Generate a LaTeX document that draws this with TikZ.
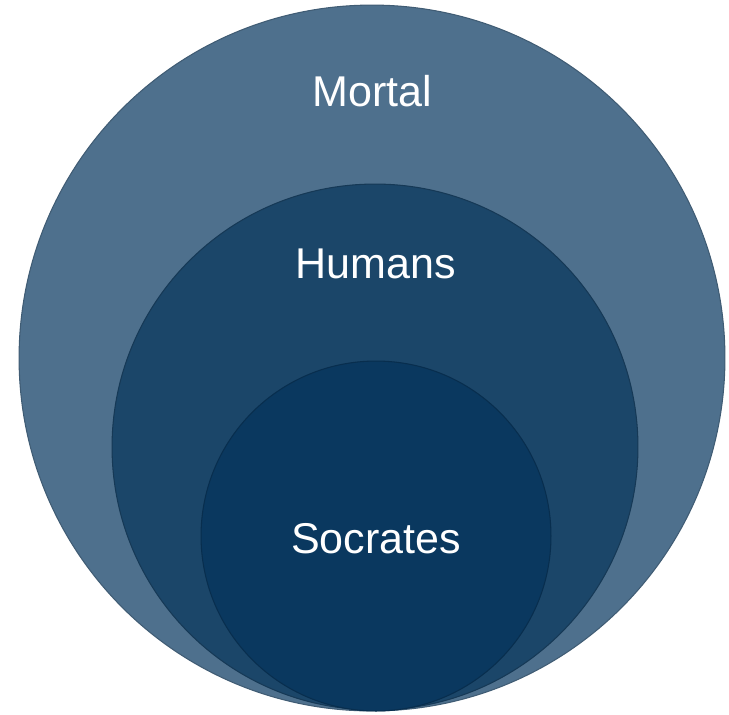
\documentclass[tikz,border=0pt]{standalone}
\usepackage{fontspec}
\setmainfont{Liberation Sans}
\definecolor{mortalblue}{RGB}{78,112,141}
\definecolor{humanblue}{RGB}{27,70,105}
\definecolor{socblue}{RGB}{10,56,95}
\begin{document}
\begin{tikzpicture}[x=0.02cm, y=-0.02cm,
      set/.style={circle,inner sep=0pt,draw=#1!82!black,line width=0.6pt,fill=#1},
      lbl/.style={anchor=base,text=white,font=\fontsize{24.5}{29}\selectfont}
    ]
      \useasboundingbox (0,0) rectangle (729,714);
      % nested sets
      \node[set=mortalblue,minimum size=14.12cm] (mortal) at (372,358) {};
      \node[set=humanblue,minimum size=10.52cm] (humans) at (375,447) {};
      \node[set=socblue,minimum size=7cm] (socrates) at (376,536) {};

      % labels
      \node[lbl] (tmortal) at (372,106) {Mortal};
      \node[lbl] (thumans) at (376,278) {Humans};
      \node[lbl] (tsocrates) at (376,553) {Socrates};
    \end{tikzpicture}
\end{document}
